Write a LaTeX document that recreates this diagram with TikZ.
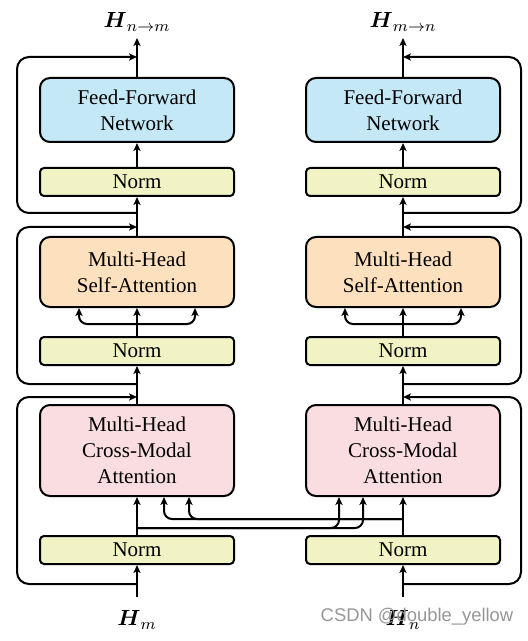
\documentclass[tikz,border=0pt]{standalone}
\usepackage{amsmath}
\usepackage{fontspec}
\setmainfont{Liberation Serif}
\newfontfamily\wmfont{Liberation Sans}
\usetikzlibrary{arrows.meta}
\definecolor{ffncol}{RGB}{197,232,247}
\definecolor{selfcol}{RGB}{253,224,190}
\definecolor{crosscol}{RGB}{250,221,224}
\definecolor{normcol}{RGB}{241,243,196}
\definecolor{wmcol}{RGB}{150,150,150}
\tikzset{
  bigbox/.style={draw, line width=1pt, rounded corners=5pt, minimum width=97pt, align=center, inner sep=0pt, font=\fontsize{10.5}{13}\selectfont},
  normbox/.style={draw, line width=1pt, rounded corners=2pt, minimum width=97pt, minimum height=14pt, inner sep=0pt, fill=normcol, font=\fontsize{10.5}{13}\selectfont},
  arr/.style={line width=1pt, -{Stealth[length=4pt,width=3.6pt,inset=1pt]}},
  loop/.style={arr, rounded corners=6pt},
  branch/.style={arr, rounded corners=4pt},
  lbl/.style={font=\fontsize{11}{13}\selectfont, inner sep=0pt}
}
\begin{document}
\begin{tikzpicture}[x=0.5pt,y=-0.5pt]
\useasboundingbox (0,0) rectangle (528,641);

% ---------- left column ----------
\node[bigbox, fill=ffncol, minimum height=32pt] (ffnL) at (137,110) {Feed-Forward\\Network};
\node[normbox] (nL1) at (137,182) {Norm};
\node[bigbox, fill=selfcol, minimum height=35pt] (mL) at (137,272) {Multi-Head\\Self-Attention};
\node[normbox] (nL2) at (137,351) {Norm};
\node[bigbox, fill=crosscol, minimum height=45.5pt] (cL) at (137,450.5) {Multi-Head\\Cross-Modal\\Attention};
\node[normbox] (nL3) at (137,550) {Norm};

% ---------- right column ----------
\node[bigbox, fill=ffncol, minimum height=32pt] (ffnR) at (403,110) {Feed-Forward\\Network};
\node[normbox] (nR1) at (403,182) {Norm};
\node[bigbox, fill=selfcol, minimum height=35pt] (mR) at (403,272) {Multi-Head\\Self-Attention};
\node[normbox] (nR2) at (403,351) {Norm};
\node[bigbox, fill=crosscol, minimum height=45.5pt] (cR) at (403,450.5) {Multi-Head\\Cross-Modal\\Attention};
\node[normbox] (nR3) at (403,550) {Norm};

% ---------- labels ----------
\node[lbl] (outL) at (137,22) {$\boldsymbol{H}_{n\rightarrow m}$};
\node[lbl] (outR) at (403,22) {$\boldsymbol{H}_{m\rightarrow n}$};
\node[lbl] (inLlbl) at (137,620) {$\boldsymbol{H}_{m}$};
\node[lbl] (inRlbl) at (403,620) {$\boldsymbol{H}_{n}$};

% ---------- coordinates ----------
\coordinate (inL) at (137,597);
\coordinate (inR) at (403,597);
\coordinate (topL) at (137,38);
\coordinate (topR) at (403,38);
% skip loops (left)
\coordinate (sL3) at (137,584); \coordinate (eL3) at (137,397);
\coordinate (sL2) at (137,384); \coordinate (eL2) at (137,227);
\coordinate (sL1) at (137,213); \coordinate (eL1) at (137,57);
% skip loops (right)
\coordinate (sR3) at (403,584); \coordinate (eR3) at (403,397);
\coordinate (sR2) at (403,384); \coordinate (eR2) at (403,227);
\coordinate (sR1) at (403,213); \coordinate (eR1) at (403,57);
% branch points
\coordinate (jL) at (137,324);
\coordinate (jR) at (403,324);
\coordinate (xL) at (137,528);
\coordinate (xR) at (403,519);

% ---------- main flow left ----------
\draw[arr] (inL) -- (nL3.south);
\draw[arr] (nL3.north) -- (cL.south);
\draw[arr] (cL.north) -- (nL2.south);
\draw[arr] (nL2.north) -- (mL.south);
\draw[branch] (jL) -| ([xshift=-29pt]mL.south);
\draw[branch] (jL) -| ([xshift=29pt]mL.south);
\draw[arr] (mL.north) -- (nL1.south);
\draw[arr] (nL1.north) -- (ffnL.south);
\draw[arr] (ffnL.north) -- (topL);

% ---------- main flow right ----------
\draw[arr] (inR) -- (nR3.south);
\draw[arr] (nR3.north) -- (cR.south);
\draw[arr] (cR.north) -- (nR2.south);
\draw[arr] (nR2.north) -- (mR.south);
\draw[branch] (jR) -| ([xshift=-29pt]mR.south);
\draw[branch] (jR) -| ([xshift=29pt]mR.south);
\draw[arr] (mR.north) -- (nR1.south);
\draw[arr] (nR1.north) -- (ffnR.south);
\draw[arr] (ffnR.north) -- (topR);

% ---------- skip loops ----------
\draw[loop] (sL3) -- (17,584) -- (17,397) -- (eL3);
\draw[loop] (sL2) -- (17,384) -- (17,227) -- (eL2);
\draw[loop] (sL1) -- (17,213) -- (17,57) -- (eL1);
\draw[loop] (sR3) -- (521,584) -- (521,397) -- (eR3);
\draw[loop] (sR2) -- (521,384) -- (521,227) -- (eR2);
\draw[loop] (sR1) -- (521,213) -- (521,57) -- (eR1);

% ---------- cross connections ----------
\draw[branch] (xL) -| ([xshift=-32pt]cR.south);
\draw[branch] (xL) -| ([xshift=-20pt]cR.south);
\draw[branch] (xR) -| ([xshift=26pt]cL.south);
\draw[branch] (xR) -| ([xshift=13.5pt]cL.south);

% ---------- watermark ----------
\node[font=\wmfont\fontsize{9.2}{11}\selectfont, text=wmcol, inner sep=0pt] (wm) at (417,617) {CSDN @double\_yellow};
\end{tikzpicture}
\end{document}
